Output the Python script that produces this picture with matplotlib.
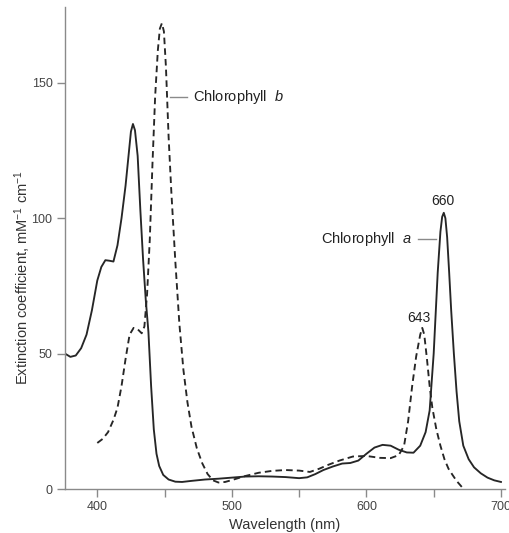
import matplotlib.pyplot as plt

#wavelength (nm) and extinction coefficient
chl_a_nm = [376, 380, 384, 388, 392, 396, 400, 403, 406, 409, 412, 415, 418, 421,
            423, 425, 426.5, 428, 430, 432, 434, 436, 438, 440, 442, 444, 446, 449, 453,
            458, 463, 470, 480, 490, 500, 510, 520, 530, 540, 550, 556, 562, 568,
            575, 582, 588, 594, 600, 606, 612, 618, 624, 630, 635, 640, 644, 647,
            650, 653, 655, 656.3, 657.5, 658.7, 660, 661.5, 663, 665, 667, 669, 672,
            676, 680, 685, 690, 695, 700]
chl_a_ext = [50, 48.8, 49.3, 52, 57, 66, 77, 82, 84.5, 84.3, 84, 90, 100, 112,
             122, 132, 134.8, 132.5, 123, 103, 85, 70, 58, 38, 22, 13, 8.5, 5.2, 3.5,
             2.7, 2.6, 3.0, 3.5, 3.8, 4.2, 4.6, 4.7, 4.6, 4.4, 4.0, 4.3, 5.5, 7.0,
             8.3, 9.4, 9.6, 10.5, 13, 15.3, 16.3, 16, 14.5, 13.5, 13.4, 16, 21, 29,
             50, 80, 95, 100.5, 102, 100, 93, 80, 66, 50, 36, 25, 16,
             11, 8, 5.8, 4.2, 3.2, 2.6]

chl_b_nm = [400, 404, 408, 412, 415, 418, 421, 424, 427, 430, 433, 435, 437, 439,
            441, 443, 445, 446.5, 448, 449.5, 451, 453, 455, 458, 461, 464, 467, 470,
            474, 478, 482, 486, 490, 495, 500, 510, 520, 530, 540, 550, 558, 565,
            572, 580, 590, 600, 610, 618, 624, 628, 631, 634, 637, 640, 641.5, 643,
            645, 647, 649, 652, 655, 658, 661, 664, 667, 671]
chl_b_ext = [17, 18.5, 21, 25.5, 30, 38, 48, 57, 59.5, 59, 57.5, 60, 72, 92,
             120, 145, 162, 170, 172, 169, 156, 130, 110, 84, 61, 44, 32, 23,
             15, 9.5, 5.5, 3.2, 2.4, 2.6, 3.3, 4.8, 6.0, 6.7, 7.0, 6.8, 6.3, 7.5,
             9, 10.5, 12, 12.2, 11.5, 11.4, 12.5, 16, 25, 38, 49, 57, 59.5, 57,
             48, 38, 30, 22, 16, 11, 7.5, 5.2, 3, 0.7]

x_ticks = [400, 450, 500, 550, 600, 650, 700]
x_tick_labels = ['400', '', '500', '', '600', '', '700']
y_ticks = [0, 50, 100, 150]

plt.rcParams['font.family'] = ['Liberation Sans', 'DejaVu Sans']
plt.rcParams['mathtext.default'] = 'regular'
plt.rcParams['mathtext.fontset'] = 'custom'
plt.rcParams['mathtext.rm'] = 'Liberation Sans'
plt.rcParams['mathtext.it'] = 'Liberation Sans:italic'

fig = plt.figure(figsize=(5.09, 5.33), dpi=100)
ax = fig.add_axes([65/509, 1 - 489/533, 440/509, 482/533])

line_col = '#262626'
ax.plot(chl_a_nm, chl_a_ext, color=line_col, lw=1.35, solid_joinstyle='round')
ax.plot(chl_b_nm, chl_b_ext, color=line_col, lw=1.35, linestyle=(0, (3.5, 2.2)))

ax.set_xlim(376, 703)
ax.set_ylim(0, 178)

for side in ['top', 'right']:
    ax.spines[side].set_visible(False)
for side in ['left', 'bottom']:
    ax.spines[side].set_color('#8a8a8a')
    ax.spines[side].set_linewidth(1.0)

ax.set_xticks(x_ticks)
ax.set_xticklabels(x_tick_labels)
ax.set_yticks(y_ticks)
ax.tick_params(length=6, width=1.0, color='#8a8a8a', labelcolor='#444444',
               labelsize=9, pad=3)

#axis titles
ax.set_xlabel('Wavelength (nm)', fontsize=10.5, color='#333333', labelpad=3)
fig.text(23/509, 1 - 278/533,
         r'Extinction coefficient, mM$^{-1}$ cm$^{-1}$',
         rotation=90, ha='center', va='center', fontsize=10.5, color='#333333')

#curve labels with leader lines
ax.plot([454, 467], [144.8, 144.8], color='#8a8a8a', lw=1.0)
ax.text(471, 144.8, r'Chlorophyll  $\mathit{b}$', fontsize=10.5, color='#222222',
        ha='left', va='center')

ax.plot([638, 652], [92.2, 92.2], color='#8a8a8a', lw=1.0)
ax.text(634, 92.2, r'Chlorophyll  $\mathit{a}$', fontsize=10.5, color='#222222',
        ha='right', va='center')

ax.text(657, 106.5, '660', fontsize=10, color='#222222', ha='center', va='center')
ax.text(639, 63.3, '643', fontsize=10, color='#222222', ha='center', va='center')

fig.savefig('out.png', dpi=100)
